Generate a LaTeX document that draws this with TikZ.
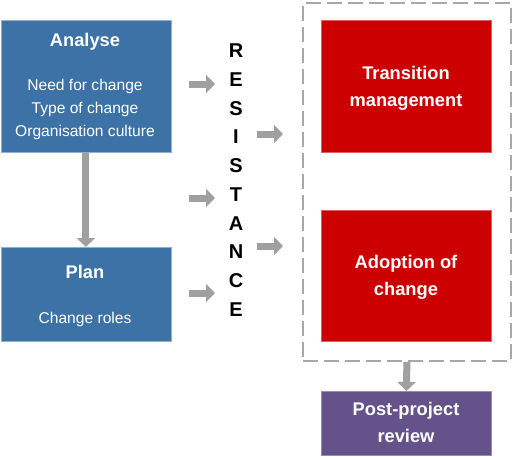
\documentclass[tikz,border=0pt]{standalone}
\usepackage{fontspec}
\setmainfont{Liberation Sans}
\usetikzlibrary{arrows.meta}
\definecolor{boxblue}{HTML}{3D72A6}
\definecolor{blueedge}{HTML}{8FB0D3}
\definecolor{boxred}{HTML}{CC0000}
\definecolor{rededge}{HTML}{E06060}
\definecolor{boxpurple}{HTML}{66528A}
\definecolor{purpleedge}{HTML}{9A8AB8}
\definecolor{arrowgray}{HTML}{A0A0A0}
\definecolor{dashgray}{HTML}{A8A8A8}
\begin{document}
\begin{tikzpicture}[x=1pt,y=-1pt,
  panel/.style={minimum width=170pt, inner sep=0pt, anchor=north west, line width=0.8pt},
  bluebox/.style={panel, fill=boxblue, draw=blueedge},
  redbox/.style={panel, fill=boxred, draw=rededge},
  purplebox/.style={panel, fill=boxpurple, draw=purpleedge},
  boxtext/.style={text=white, inner sep=0pt, align=center,
    font=\fontsize{18.3}{27}\selectfont\bfseries},
  titletext/.style={text=white, inner sep=0pt, font=\fontsize{18.3}{22}\selectfont\bfseries},
  bodytext/.style={text=white, inner sep=0pt, align=center, font=\fontsize{15.6}{23}\selectfont},
  letter/.style={inner sep=0pt, font=\fontsize{20}{22}\selectfont\bfseries},
  garrow/.style={draw=arrowgray, line width=7pt, -{Triangle[length=9pt,width=18pt]}},
  dashbox/.style={draw=dashgray, line width=1.8pt, dash pattern=on 15pt off 6pt,
    minimum width=208pt, minimum height=358pt, anchor=north west, inner sep=0pt}
]
\useasboundingbox (0,0) rectangle (512,456);

% left blue boxes
\node[bluebox, minimum height=132pt] (analyse) at (0.5,20) {};
\node[titletext] (analyseT) at (85,42) {Analyse};
\node[bodytext] (analyseB) at (85,109.5) {Need for change\\Type of change\\Organisation culture};

\node[bluebox, minimum height=94pt] (plan) at (0.5,247) {};
\node[titletext] (planT) at (85,272) {Plan};
\node[bodytext] (planB) at (85,319) {Change roles};

\draw[garrow] (analyse.south) -- (plan.north);

% RESISTANCE
\foreach \l [count=\i from 0] in {R,E,S,I,S,T,A,N,C,E}
  \node[letter] (r\i) at (236,{51+28.7*\i}) {\l};

% left arrows
\coordinate (la1s) at (189,84);  \coordinate (la1e) at (215,84);
\coordinate (la2s) at (189,198); \coordinate (la2e) at (215,198);
\coordinate (la3s) at (189,293); \coordinate (la3e) at (215,293);
\draw[garrow] (la1s) -- (la1e);
\draw[garrow] (la2s) -- (la2e);
\draw[garrow] (la3s) -- (la3e);

% right arrows
\coordinate (ra1s) at (257,134); \coordinate (ra1e) at (283,134);
\coordinate (ra2s) at (257,246); \coordinate (ra2e) at (283,246);
\draw[garrow] (ra1s) -- (ra1e);
\draw[garrow] (ra2s) -- (ra2e);

% dashed group
\node[dashbox] (grp) at (302,2) {};

% right boxes
\node[redbox, minimum height=132pt] (trans) at (321,20) {};
\node[boxtext] (transT) at (406,88) {Transition\\management};
\node[redbox, minimum height=131pt] (adopt) at (321,210) {};
\node[boxtext] (adoptT) at (406,277) {Adoption of\\change};
\node[purplebox, minimum height=64pt] (post) at (321,391) {};
\node[boxtext] (postT) at (406,422.5) {Post-project\\review};

\draw[garrow] (grp.south) -- (post.north);
\end{tikzpicture}
\end{document}
